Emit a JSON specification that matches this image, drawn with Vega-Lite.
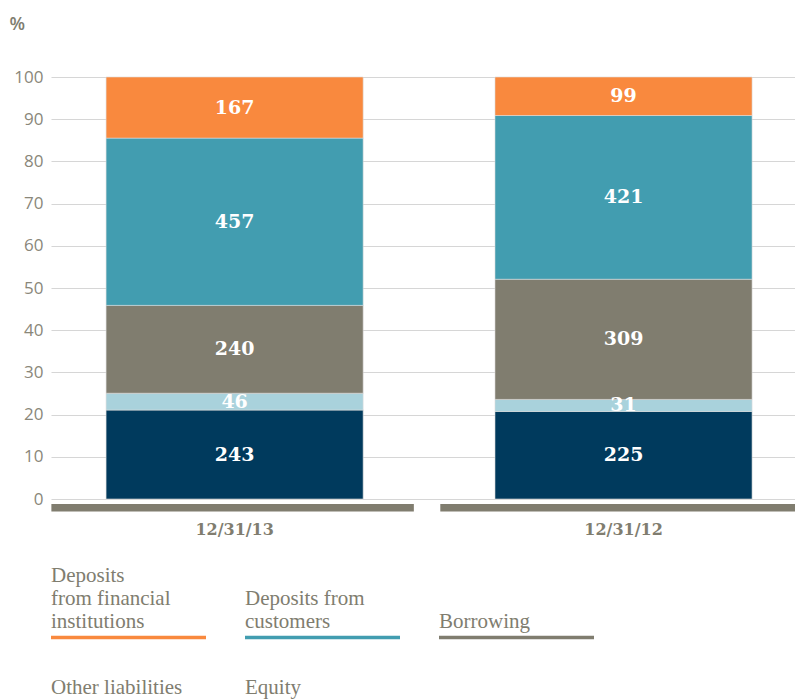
{
  "$schema": "https://vega.github.io/schema/vega-lite/v6.json",
  "padding": {"top": 15, "left": 9, "right": 0, "bottom": 0},
  "bounds": "flush",
  "spacing": 88.5,
  "config": {
    "view": {"stroke": null},
    "font": "Liberation Serif",
    "header": {"labels": false, "title": null},
    "headerFacet": {"labels": false, "title": null}
  },
  "vconcat": [
    {
      "width": 744,
      "height": 422,
      "data": {
        "values": [
          {"date": "12/31/13", "series": "Equity", "value": 243},
          {"date": "12/31/13", "series": "Other liabilities", "value": 46},
          {"date": "12/31/13", "series": "Borrowing", "value": 240},
          {"date": "12/31/13", "series": "Deposits from customers", "value": 457},
          {"date": "12/31/13", "series": "Deposits from financial institutions", "value": 167},
          {"date": "12/31/12", "series": "Equity", "value": 225},
          {"date": "12/31/12", "series": "Other liabilities", "value": 31},
          {"date": "12/31/12", "series": "Borrowing", "value": 309},
          {"date": "12/31/12", "series": "Deposits from customers", "value": 421},
          {"date": "12/31/12", "series": "Deposits from financial institutions", "value": 99}
        ]
      },
      "transform": [
        {
          "calculate": "indexof(['Equity', 'Other liabilities', 'Borrowing', 'Deposits from customers', 'Deposits from financial institutions'], datum.series)",
          "as": "stack_order"
        }
      ],
      "encoding": {
        "x": {
          "field": "date",
          "type": "nominal",
          "sort": ["12/31/13", "12/31/12"],
          "scale": {"paddingInner": 0.339, "paddingOuter": 0.126, "align": 0.562},
          "axis": {
            "title": null,
            "ticks": false,
            "domain": false,
            "labelAngle": 0,
            "labelFont": "DejaVu Serif",
            "labelFontWeight": "bold",
            "labelFontSize": 16,
            "labelColor": "#807D6F",
            "labelPadding": 30,
            "labelBaseline": "middle"
          }
        }
      },
      "layer": [
        {
          "mark": {"type": "bar", "stroke": "#DCDCDC", "strokeWidth": 0.6},
          "encoding": {
            "y": {
              "field": "value",
              "type": "quantitative",
              "stack": "normalize",
              "scale": {"domain": [0, 1], "nice": false},
              "axis": {
                "values": [0, 0.1, 0.2, 0.3, 0.4, 0.5, 0.6, 0.7, 0.8, 0.9, 1],
                "labelExpr": "format(datum.value * 100, '.0f')",
                "ticks": false,
                "domain": false,
                "grid": true,
                "gridColor": "#D6D6D6",
                "gridWidth": 1.2,
                "labelFont": "Open Sans",
                "labelFontSize": 17,
                "labelColor": "#8A877A",
                "labelPadding": 8,
                "title": "%",
                "titleAngle": 0,
                "titleX": -42,
                "titleY": -53,
                "titleAlign": "left",
                "titleBaseline": "middle",
                "titleFont": "Open Sans",
                "titleFontSize": 18,
                "titleFontWeight": 600,
                "titleColor": "#807D6F"
              }
            },
            "color": {
              "field": "series",
              "type": "nominal",
              "scale": {
                "domain": ["Deposits from financial institutions", "Deposits from customers", "Borrowing", "Other liabilities", "Equity"],
                "range": ["#F9893E", "#429DB0", "#807D6F", "#A9D2DC", "#003A5D"]
              },
              "legend": null
            },
            "order": {"field": "stack_order", "type": "quantitative"}
          }
        },
        {
          "mark": {
            "type": "text",
            "font": "DejaVu Serif",
            "fontWeight": "bold",
            "fontSize": 19,
            "color": "white",
            "baseline": "middle"
          },
          "encoding": {
            "y": {"field": "value", "type": "quantitative", "stack": "normalize", "bandPosition": 0.5},
            "detail": {"field": "series"},
            "order": {"field": "stack_order", "type": "quantitative"},
            "text": {"field": "value", "type": "quantitative"}
          }
        },
        {
          "transform": [{"aggregate": [{"op": "count", "as": "n"}], "groupby": ["date"]}],
          "mark": {"type": "bar", "width": {"band": 1.41}, "xOffset": -2, "color": "#807D6F"},
          "encoding": {
            "y": {"datum": -0.0118},
            "y2": {"datum": -0.0296}
          }
        }
      ]
    },
    {
      "data": {
        "values": [
          {"series": "Deposits from financial institutions", "label": "Deposits\nfrom financial\ninstitutions"},
          {"series": "Deposits from customers", "label": "Deposits from\ncustomers"},
          {"series": "Borrowing", "label": "Borrowing"},
          {"series": "Other liabilities", "label": "Other liabilities"},
          {"series": "Equity", "label": "Equity"}
        ]
      },
      "transform": [
        {"calculate": "length(split(datum.label, '\\n'))", "as": "line_count"},
        {"calculate": "0.19 + (datum.line_count - 1) * 0.46", "as": "first_line_y"}
      ],
      "facet": {
        "field": "series",
        "type": "nominal",
        "sort": ["Deposits from financial institutions", "Deposits from customers", "Borrowing", "Other liabilities", "Equity"],
        "header": {"title": null, "labels": false, "labelExpr": "''", "labelFontSize": 0, "labelPadding": 0}
      },
      "columns": 3,
      "bounds": "flush",
      "spacing": {"column": 39, "row": 15.5},
      "spec": {
        "width": 155,
        "height": 50,
        "layer": [
          {
            "mark": {"type": "rule", "strokeWidth": 3.3},
            "encoding": {
              "x": {"datum": 0, "type": "quantitative", "scale": {"domain": [0, 1], "nice": false}, "axis": null},
              "x2": {"datum": 1},
              "y": {"datum": 0, "type": "quantitative", "scale": {"domain": [0, 1], "nice": false}, "axis": null},
              "color": {
                "field": "series",
                "type": "nominal",
                "scale": {
                  "domain": ["Deposits from financial institutions", "Deposits from customers", "Borrowing", "Other liabilities", "Equity"],
                  "range": ["#F9893E", "#429DB0", "#807D6F", "#A9D2DC", "#003A5D"]
                },
                "legend": null
              }
            }
          },
          {
            "mark": {
              "type": "text",
              "align": "left",
              "baseline": "alphabetic",
              "lineBreak": "\n",
              "lineHeight": 23,
              "font": "Liberation Serif",
              "fontSize": 21,
              "color": "#807D6F"
            },
            "encoding": {
              "x": {"datum": 0, "type": "quantitative"},
              "y": {"field": "first_line_y", "type": "quantitative"},
              "text": {"field": "label"}
            }
          }
        ]
      }
    }
  ]
}
